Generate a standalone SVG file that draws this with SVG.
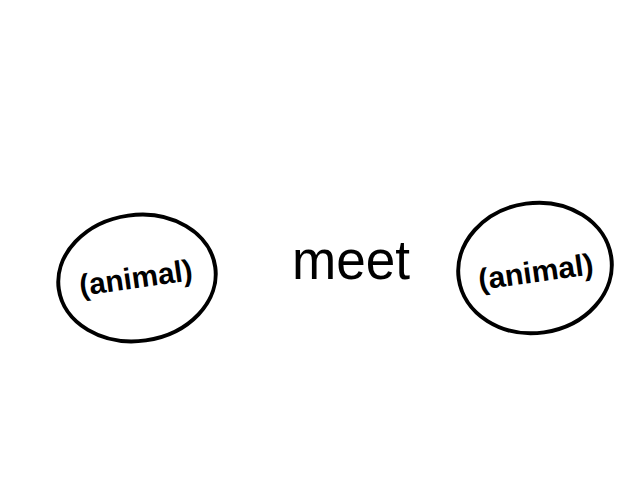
<svg xmlns="http://www.w3.org/2000/svg" width="640" height="480" viewBox="0 0 640 480">
<style>
.node ellipse{fill:none;stroke:#000;stroke-width:4}
.lbl{font-family:"Liberation Sans",Arial,sans-serif;font-size:30px;fill:#000;font-weight:bold}
.mid{font-family:"Liberation Sans",Arial,sans-serif;font-size:56px;fill:#000}
</style>
<rect width="640" height="480" fill="#fff"/>
<g id="connectors"></g>
<g id="animal-left" class="node">
<ellipse cx="137" cy="278" rx="79" ry="63" transform="rotate(-8 137 278)"/>
<text class="lbl" x="136" y="288" text-anchor="middle" textLength="114" lengthAdjust="spacingAndGlyphs" transform="rotate(-8 136 280)">(animal)</text>
</g>
<g id="meet" class="node">
<text class="mid" x="351" y="279" text-anchor="middle" textLength="118" lengthAdjust="spacingAndGlyphs">meet</text>
</g>
<g id="animal-right" class="node">
<ellipse cx="535" cy="268" rx="77" ry="65" transform="rotate(-8 535 268)"/>
<text class="lbl" x="536" y="282" text-anchor="middle" textLength="116" lengthAdjust="spacingAndGlyphs" transform="rotate(-8 536 274)">(animal)</text>
</g>
</svg>
